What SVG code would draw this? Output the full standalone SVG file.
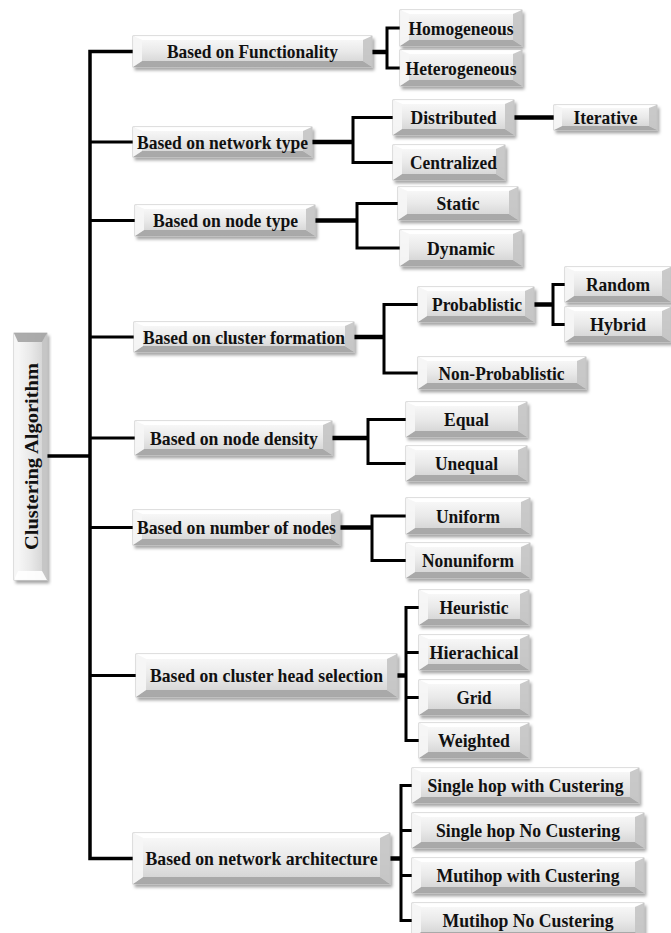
<svg xmlns="http://www.w3.org/2000/svg" width="671" height="933" viewBox="0 0 671 933">
<defs>
<linearGradient id="gf" x1="0" y1="0" x2="0" y2="1"><stop offset="0" stop-color="#fbfbfb"/><stop offset="0.5" stop-color="#e9e9e9"/><stop offset="1" stop-color="#cfcfcf"/></linearGradient>
<linearGradient id="gv" x1="0" y1="0" x2="1" y2="0"><stop offset="0" stop-color="#fbfbfb"/><stop offset="0.5" stop-color="#e9e9e9"/><stop offset="1" stop-color="#cfcfcf"/></linearGradient>
<filter id="ds" x="-10%" y="-20%" width="125%" height="160%"><feDropShadow dx="2" dy="3" stdDeviation="1.6" flood-color="#000" flood-opacity="0.35"/></filter>
<style>
.face{fill:url(#gf);stroke:#b3b3b3;stroke-width:0.8;filter:url(#ds)}
.vface{fill:url(#gv);stroke:#b3b3b3;stroke-width:0.8;filter:url(#ds)}
.bt{fill:#ffffff;opacity:0.9}
.bl{fill:#f6f6f6;opacity:0.95}
.br{fill:#c4c4c4;opacity:0.9}
.bb{fill:#a4a4a4;opacity:0.9}
text{font-family:"Liberation Serif","Times New Roman",serif;font-weight:bold;font-size:19.5px;fill:#111;text-anchor:middle}
.ln{fill:none;stroke:#000;stroke-width:3;stroke-linejoin:miter;stroke-linecap:butt}
.tr{fill:none;stroke:#000;stroke-width:3.5}
.st{fill:none;stroke:#000;stroke-width:4.5}
</style>
</defs>
<rect width="671" height="933" fill="#fff"/>
<g id="connectors">
<path class="tr" d="M133,51.5 H90 V858.5 H133"/>
<path class="tr" d="M47,456 H90"/>
<path class="ln" d="M90,142 H133 M90,220.5 H135 M90,337 H134 M90,438 H135 M90,527.5 H133 M90,675.5 H136"/>
<path class="st" d="M372,52 H387"/>
<path class="ln" d="M400,28 H387 V68 H400"/>
<path class="st" d="M312,142 H353"/>
<path class="ln" d="M393,117.5 H353 V162.5 H393"/>
<path class="st" d="M514,117.5 H554"/>
<path class="st" d="M315,220.5 H357"/>
<path class="ln" d="M398,203.5 H357 V248 H400"/>
<path class="st" d="M354,337 H384"/>
<path class="ln" d="M418,304.5 H384 V373 H418"/>
<path class="st" d="M534,304.5 H553"/>
<path class="ln" d="M565,284.5 H553 V324.5 H565"/>
<path class="st" d="M332,438 H368"/>
<path class="ln" d="M406,419.5 H368 V463.5 H406"/>
<path class="st" d="M340,527.5 H372"/>
<path class="ln" d="M406,516 H372 V560.5 H406"/>
<path class="st" d="M397,675.5 H406"/>
<path class="ln" d="M419,607.5 H406 V740.5 H419 M406,652.5 H419 M406,697.5 H419"/>
<path class="st" d="M390,858.5 H401"/>
<path class="ln" d="M412,785.5 H401 V920.5 H412 M401,830.5 H412 M401,875.5 H412"/>
</g>

<g id="root">
<rect class="vface" x="14" y="333" width="33" height="247"/>
<path class="bl" d="M14,333 l4,9 v229 l-4,9 z"/>
<path class="br" d="M47,333 l-5,9 v229 l5,9 z"/>
<path class="bb" d="M14,333 h33 l-5,9 h-24 z"/>
<path class="bt" d="M14,580 h33 l-5,-9 h-24 z"/>
<text transform="translate(37.5,456.5) rotate(-90)" textLength="187" lengthAdjust="spacingAndGlyphs">Clustering Algorithm</text>
</g>

<g id="functionality">
<rect class="face" x="133" y="36" width="239" height="31"/>
<path class="bt" d="M133,36 h239 l-9,4 h-221 z"/>
<path class="bb" d="M133,67 h239 l-9,-6 h-221 z"/>
<path class="bl" d="M133,36 l9,4 v21 l-9,6 z"/>
<path class="br" d="M372,36 l-9,4 v21 l9,6 z"/>
<text x="252.5" y="58" textLength="171" lengthAdjust="spacingAndGlyphs">Based on Functionality</text>
</g>
<g id="networktype">
<rect class="face" x="133" y="127" width="179" height="30"/>
<path class="bt" d="M133,127 h179 l-9,4 h-161 z"/>
<path class="bb" d="M133,157 h179 l-9,-6 h-161 z"/>
<path class="bl" d="M133,127 l9,4 v20 l-9,6 z"/>
<path class="br" d="M312,127 l-9,4 v20 l9,6 z"/>
<text x="222.5" y="148.5" textLength="171" lengthAdjust="spacingAndGlyphs">Based on network type</text>
</g>
<g id="nodetype">
<rect class="face" x="135" y="205" width="180" height="31"/>
<path class="bt" d="M135,205 h180 l-9,4 h-162 z"/>
<path class="bb" d="M135,236 h180 l-9,-6 h-162 z"/>
<path class="bl" d="M135,205 l9,4 v21 l-9,6 z"/>
<path class="br" d="M315,205 l-9,4 v21 l9,6 z"/>
<text x="225.5" y="227" textLength="145" lengthAdjust="spacingAndGlyphs">Based on node type</text>
</g>
<g id="clusterformation">
<rect class="face" x="134" y="322" width="220" height="30"/>
<path class="bt" d="M134,322 h220 l-9,4 h-202 z"/>
<path class="bb" d="M134,352 h220 l-9,-6 h-202 z"/>
<path class="bl" d="M134,322 l9,4 v20 l-9,6 z"/>
<path class="br" d="M354,322 l-9,4 v20 l9,6 z"/>
<text x="244" y="343.5" textLength="202" lengthAdjust="spacingAndGlyphs">Based on cluster formation</text>
</g>
<g id="nodedensity">
<rect class="face" x="135" y="421" width="197" height="34"/>
<path class="bt" d="M135,421 h197 l-9,4 h-179 z"/>
<path class="bb" d="M135,455 h197 l-9,-6 h-179 z"/>
<path class="bl" d="M135,421 l9,4 v24 l-9,6 z"/>
<path class="br" d="M332,421 l-9,4 v24 l9,6 z"/>
<text x="234" y="444.5" textLength="168" lengthAdjust="spacingAndGlyphs">Based on node density</text>
</g>
<g id="numberofnodes">
<rect class="face" x="133" y="510" width="207" height="35"/>
<path class="bt" d="M133,510 h207 l-9,4 h-189 z"/>
<path class="bb" d="M133,545 h207 l-9,-6 h-189 z"/>
<path class="bl" d="M133,510 l9,4 v25 l-9,6 z"/>
<path class="br" d="M340,510 l-9,4 v25 l9,6 z"/>
<text x="236.5" y="534" textLength="199" lengthAdjust="spacingAndGlyphs">Based on number of nodes</text>
</g>
<g id="headselection">
<rect class="face" x="136" y="654" width="261" height="43"/>
<path class="bt" d="M136,654 h261 l-10,5 h-241 z"/>
<path class="bb" d="M136,697 h261 l-10,-7 h-241 z"/>
<path class="bl" d="M136,654 l10,5 v31 l-10,7 z"/>
<path class="br" d="M397,654 l-10,5 v31 l10,7 z"/>
<text x="266.5" y="682" textLength="233" lengthAdjust="spacingAndGlyphs">Based on cluster head selection</text>
</g>
<g id="architecture">
<rect class="face" x="133" y="833" width="257" height="51"/>
<path class="bt" d="M133,833 h257 l-10,5 h-237 z"/>
<path class="bb" d="M133,884 h257 l-10,-7 h-237 z"/>
<path class="bl" d="M133,833 l10,5 v39 l-10,7 z"/>
<path class="br" d="M390,833 l-10,5 v39 l10,7 z"/>
<text x="261.5" y="865" textLength="232" lengthAdjust="spacingAndGlyphs">Based on network architecture</text>
</g>

<g id="homogeneous">
<rect class="face" x="400" y="10" width="122" height="36"/>
<path class="bt" d="M400,10 h122 l-9,4 h-104 z"/>
<path class="bb" d="M400,46 h122 l-9,-6 h-104 z"/>
<path class="bl" d="M400,10 l9,4 v26 l-9,6 z"/>
<path class="br" d="M522,10 l-9,4 v26 l9,6 z"/>
<text x="461" y="34.5" textLength="105" lengthAdjust="spacingAndGlyphs">Homogeneous</text>
</g>
<g id="heterogeneous">
<rect class="face" x="400" y="50" width="122" height="36"/>
<path class="bt" d="M400,50 h122 l-9,4 h-104 z"/>
<path class="bb" d="M400,86 h122 l-9,-6 h-104 z"/>
<path class="bl" d="M400,50 l9,4 v26 l-9,6 z"/>
<path class="br" d="M522,50 l-9,4 v26 l9,6 z"/>
<text x="461" y="74.5" textLength="111" lengthAdjust="spacingAndGlyphs">Heterogeneous</text>
</g>
<g id="distributed">
<rect class="face" x="393" y="100" width="121" height="35"/>
<path class="bt" d="M393,100 h121 l-9,4 h-103 z"/>
<path class="bb" d="M393,135 h121 l-9,-6 h-103 z"/>
<path class="bl" d="M393,100 l9,4 v25 l-9,6 z"/>
<path class="br" d="M514,100 l-9,4 v25 l9,6 z"/>
<text x="453.5" y="124" textLength="86" lengthAdjust="spacingAndGlyphs">Distributed</text>
</g>
<g id="iterative">
<rect class="face" x="554" y="105" width="103" height="25"/>
<path class="bt" d="M554,105 h103 l-8,3 h-87 z"/>
<path class="bb" d="M554,130 h103 l-8,-4 h-87 z"/>
<path class="bl" d="M554,105 l8,3 v18 l-8,4 z"/>
<path class="br" d="M657,105 l-8,3 v18 l8,4 z"/>
<text x="605.5" y="124" textLength="64" lengthAdjust="spacingAndGlyphs">Iterative</text>
</g>
<g id="centralized">
<rect class="face" x="393" y="145" width="112" height="35"/>
<path class="bt" d="M393,145 h112 l-9,4 h-94 z"/>
<path class="bb" d="M393,180 h112 l-9,-6 h-94 z"/>
<path class="bl" d="M393,145 l9,4 v25 l-9,6 z"/>
<path class="br" d="M505,145 l-9,4 v25 l9,6 z"/>
<text x="453.5" y="169" textLength="87" lengthAdjust="spacingAndGlyphs">Centralized</text>
</g>
<g id="static">
<rect class="face" x="398" y="187" width="120" height="33"/>
<path class="bt" d="M398,187 h120 l-9,4 h-102 z"/>
<path class="bb" d="M398,220 h120 l-9,-6 h-102 z"/>
<path class="bl" d="M398,187 l9,4 v23 l-9,6 z"/>
<path class="br" d="M518,187 l-9,4 v23 l9,6 z"/>
<text x="458" y="210" textLength="43" lengthAdjust="spacingAndGlyphs">Static</text>
</g>
<g id="dynamic">
<rect class="face" x="400" y="230" width="122" height="36"/>
<path class="bt" d="M400,230 h122 l-9,4 h-104 z"/>
<path class="bb" d="M400,266 h122 l-9,-6 h-104 z"/>
<path class="bl" d="M400,230 l9,4 v26 l-9,6 z"/>
<path class="br" d="M522,230 l-9,4 v26 l9,6 z"/>
<text x="461" y="254.5" textLength="68" lengthAdjust="spacingAndGlyphs">Dynamic</text>
</g>
<g id="probablistic">
<rect class="face" x="418" y="287" width="116" height="35"/>
<path class="bt" d="M418,287 h116 l-9,4 h-98 z"/>
<path class="bb" d="M418,322 h116 l-9,-6 h-98 z"/>
<path class="bl" d="M418,287 l9,4 v25 l-9,6 z"/>
<path class="br" d="M534,287 l-9,4 v25 l9,6 z"/>
<text x="477" y="311" textLength="90" lengthAdjust="spacingAndGlyphs">Probablistic</text>
</g>
<g id="random">
<rect class="face" x="565" y="267" width="106" height="35"/>
<path class="bt" d="M565,267 h106 l-9,4 h-88 z"/>
<path class="bb" d="M565,302 h106 l-9,-6 h-88 z"/>
<path class="bl" d="M565,267 l9,4 v25 l-9,6 z"/>
<path class="br" d="M671,267 l-9,4 v25 l9,6 z"/>
<text x="618" y="291" textLength="64" lengthAdjust="spacingAndGlyphs">Random</text>
</g>
<g id="hybrid">
<rect class="face" x="565" y="307" width="106" height="35"/>
<path class="bt" d="M565,307 h106 l-9,4 h-88 z"/>
<path class="bb" d="M565,342 h106 l-9,-6 h-88 z"/>
<path class="bl" d="M565,307 l9,4 v25 l-9,6 z"/>
<path class="br" d="M671,307 l-9,4 v25 l9,6 z"/>
<text x="618" y="331" textLength="56" lengthAdjust="spacingAndGlyphs">Hybrid</text>
</g>
<g id="nonprobablistic">
<rect class="face" x="418" y="357" width="168" height="32"/>
<path class="bt" d="M418,357 h168 l-9,4 h-150 z"/>
<path class="bb" d="M418,389 h168 l-9,-6 h-150 z"/>
<path class="bl" d="M418,357 l9,4 v22 l-9,6 z"/>
<path class="br" d="M586,357 l-9,4 v22 l9,6 z"/>
<text x="501.5" y="379.5" textLength="126" lengthAdjust="spacingAndGlyphs">Non-Probablistic</text>
</g>
<g id="equal">
<rect class="face" x="406" y="402" width="121" height="35"/>
<path class="bt" d="M406,402 h121 l-9,4 h-103 z"/>
<path class="bb" d="M406,437 h121 l-9,-6 h-103 z"/>
<path class="bl" d="M406,402 l9,4 v25 l-9,6 z"/>
<path class="br" d="M527,402 l-9,4 v25 l9,6 z"/>
<text x="466.5" y="426" textLength="45" lengthAdjust="spacingAndGlyphs">Equal</text>
</g>
<g id="unequal">
<rect class="face" x="406" y="446" width="121" height="35"/>
<path class="bt" d="M406,446 h121 l-9,4 h-103 z"/>
<path class="bb" d="M406,481 h121 l-9,-6 h-103 z"/>
<path class="bl" d="M406,446 l9,4 v25 l-9,6 z"/>
<path class="br" d="M527,446 l-9,4 v25 l9,6 z"/>
<text x="466.5" y="470" textLength="63" lengthAdjust="spacingAndGlyphs">Unequal</text>
</g>
<g id="uniform">
<rect class="face" x="406" y="498" width="124" height="36"/>
<path class="bt" d="M406,498 h124 l-9,4 h-106 z"/>
<path class="bb" d="M406,534 h124 l-9,-6 h-106 z"/>
<path class="bl" d="M406,498 l9,4 v26 l-9,6 z"/>
<path class="br" d="M530,498 l-9,4 v26 l9,6 z"/>
<text x="468" y="522.5" textLength="64" lengthAdjust="spacingAndGlyphs">Uniform</text>
</g>
<g id="nonuniform">
<rect class="face" x="406" y="543" width="124" height="35"/>
<path class="bt" d="M406,543 h124 l-9,4 h-106 z"/>
<path class="bb" d="M406,578 h124 l-9,-6 h-106 z"/>
<path class="bl" d="M406,543 l9,4 v25 l-9,6 z"/>
<path class="br" d="M530,543 l-9,4 v25 l9,6 z"/>
<text x="468" y="567" textLength="92" lengthAdjust="spacingAndGlyphs">Nonuniform</text>
</g>
<g id="heuristic">
<rect class="face" x="419" y="590" width="110" height="35"/>
<path class="bt" d="M419,590 h110 l-9,4 h-92 z"/>
<path class="bb" d="M419,625 h110 l-9,-6 h-92 z"/>
<path class="bl" d="M419,590 l9,4 v25 l-9,6 z"/>
<path class="br" d="M529,590 l-9,4 v25 l9,6 z"/>
<text x="474" y="614" textLength="69" lengthAdjust="spacingAndGlyphs">Heuristic</text>
</g>
<g id="hierachical">
<rect class="face" x="419" y="635" width="110" height="35"/>
<path class="bt" d="M419,635 h110 l-9,4 h-92 z"/>
<path class="bb" d="M419,670 h110 l-9,-6 h-92 z"/>
<path class="bl" d="M419,635 l9,4 v25 l-9,6 z"/>
<path class="br" d="M529,635 l-9,4 v25 l9,6 z"/>
<text x="474" y="659" textLength="89" lengthAdjust="spacingAndGlyphs">Hierachical</text>
</g>
<g id="grid">
<rect class="face" x="419" y="680" width="110" height="35"/>
<path class="bt" d="M419,680 h110 l-9,4 h-92 z"/>
<path class="bb" d="M419,715 h110 l-9,-6 h-92 z"/>
<path class="bl" d="M419,680 l9,4 v25 l-9,6 z"/>
<path class="br" d="M529,680 l-9,4 v25 l9,6 z"/>
<text x="474" y="704" textLength="35" lengthAdjust="spacingAndGlyphs">Grid</text>
</g>
<g id="weighted">
<rect class="face" x="419" y="723" width="110" height="35"/>
<path class="bt" d="M419,723 h110 l-9,4 h-92 z"/>
<path class="bb" d="M419,758 h110 l-9,-6 h-92 z"/>
<path class="bl" d="M419,723 l9,4 v25 l-9,6 z"/>
<path class="br" d="M529,723 l-9,4 v25 l9,6 z"/>
<text x="474" y="747" textLength="72" lengthAdjust="spacingAndGlyphs">Weighted</text>
</g>
<g id="singlehopwith">
<rect class="face" x="412" y="768" width="227" height="35"/>
<path class="bt" d="M412,768 h227 l-9,4 h-209 z"/>
<path class="bb" d="M412,803 h227 l-9,-6 h-209 z"/>
<path class="bl" d="M412,768 l9,4 v25 l-9,6 z"/>
<path class="br" d="M639,768 l-9,4 v25 l9,6 z"/>
<text x="525.5" y="792" textLength="196" lengthAdjust="spacingAndGlyphs">Single hop with Custering</text>
</g>
<g id="singlehopno">
<rect class="face" x="412" y="813" width="232" height="35"/>
<path class="bt" d="M412,813 h232 l-9,4 h-214 z"/>
<path class="bb" d="M412,848 h232 l-9,-6 h-214 z"/>
<path class="bl" d="M412,813 l9,4 v25 l-9,6 z"/>
<path class="br" d="M644,813 l-9,4 v25 l9,6 z"/>
<text x="528" y="837" textLength="184" lengthAdjust="spacingAndGlyphs">Single hop No Custering</text>
</g>
<g id="mutihopwith">
<rect class="face" x="412" y="858" width="232" height="35"/>
<path class="bt" d="M412,858 h232 l-9,4 h-214 z"/>
<path class="bb" d="M412,893 h232 l-9,-6 h-214 z"/>
<path class="bl" d="M412,858 l9,4 v25 l-9,6 z"/>
<path class="br" d="M644,858 l-9,4 v25 l9,6 z"/>
<text x="528" y="882" textLength="183" lengthAdjust="spacingAndGlyphs">Mutihop with Custering</text>
</g>
<g id="mutihopno">
<rect class="face" x="412" y="903" width="232" height="35"/>
<path class="bt" d="M412,903 h232 l-9,4 h-214 z"/>
<path class="bb" d="M412,938 h232 l-9,-6 h-214 z"/>
<path class="bl" d="M412,903 l9,4 v25 l-9,6 z"/>
<path class="br" d="M644,903 l-9,4 v25 l9,6 z"/>
<text x="528" y="927" textLength="171" lengthAdjust="spacingAndGlyphs">Mutihop No Custering</text>
</g>
</svg>
